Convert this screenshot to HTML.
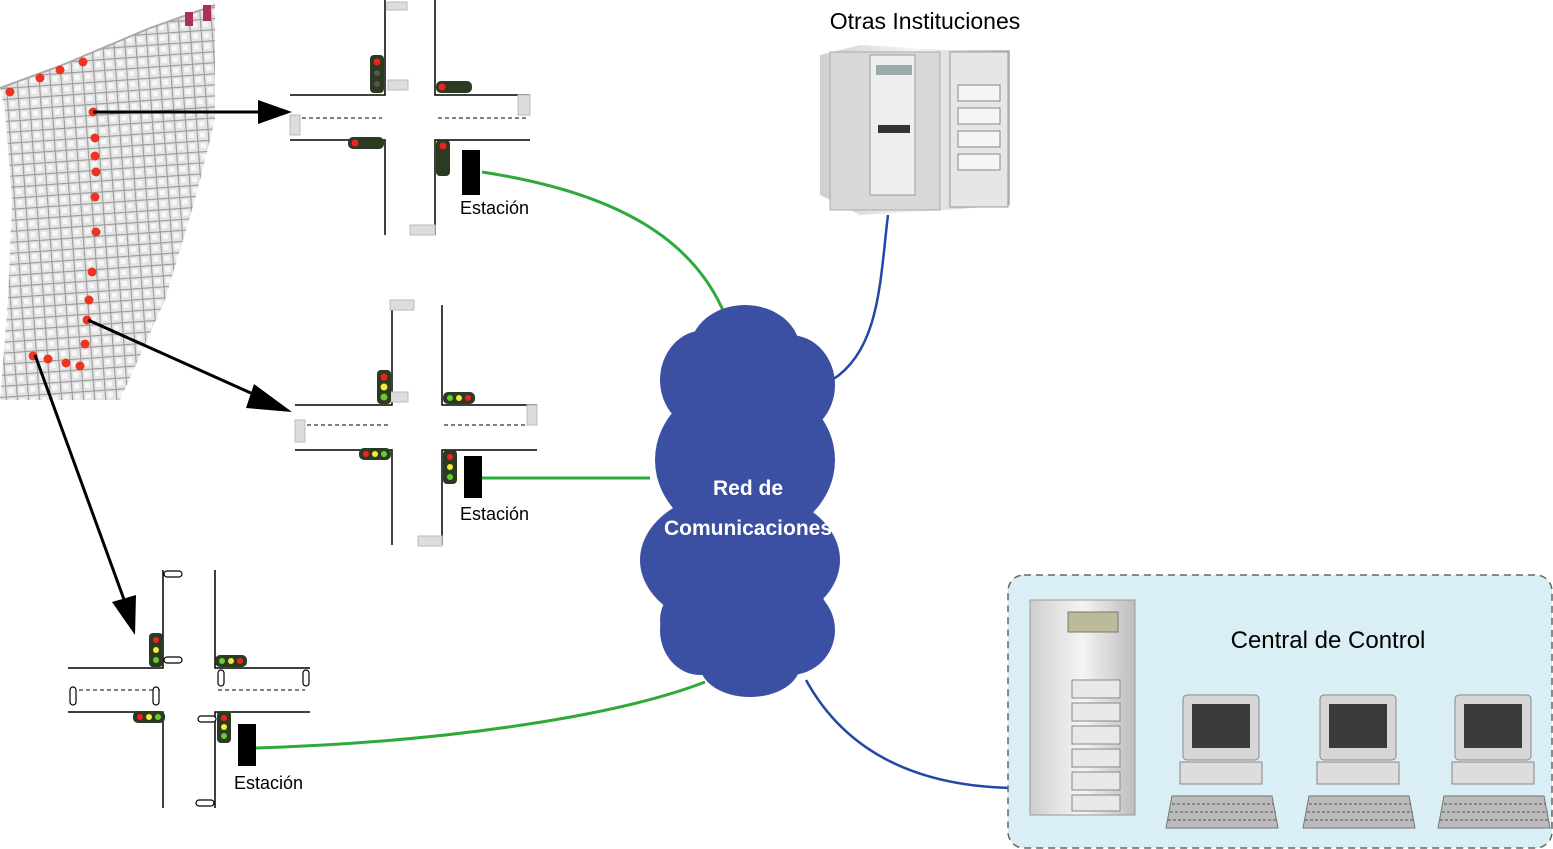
<!DOCTYPE html>
<html><head><meta charset="utf-8"><style>
html,body{margin:0;padding:0;background:#fff;}
svg{display:block;}
text{font-family:"Liberation Sans",sans-serif;}
</style></head><body>
<svg width="1553" height="849" viewBox="0 0 1553 849" xmlns="http://www.w3.org/2000/svg">
<defs>
<pattern id="grid" width="11" height="11" patternUnits="userSpaceOnUse" patternTransform="rotate(-4)">
<rect width="11" height="11" fill="#e4e4e4"/>
<path d="M0 0H11M0 0V11" stroke="#9a9a9a" stroke-width="2.2"/>
<rect x="3" y="3" width="5" height="5" fill="#f8f8f8"/>
</pattern>
<linearGradient id="srv" x1="0" x2="1"><stop offset="0" stop-color="#cfcfcf"/><stop offset="0.5" stop-color="#f4f4f4"/><stop offset="1" stop-color="#bdbdbd"/></linearGradient>
</defs>

<!-- map -->
<path d="M0 88 L60 66 L150 28 L215 5 L215 120 L195 200 L165 300 L120 400 L0 400 L8 300 L12 200 L5 110 Z" fill="url(#grid)"/>
<path d="M0 88 L60 66 L150 28 L215 5" fill="none" stroke="#aaa" stroke-width="2"/>
<rect x="185" y="12" width="8" height="14" fill="#a35"/><rect x="203" y="5" width="8" height="16" fill="#a35"/>
<g fill="#e32">
<circle cx="10" cy="92" r="4.5"/><circle cx="40" cy="78" r="4.5"/><circle cx="60" cy="70" r="4.5"/><circle cx="83" cy="62" r="4.5"/>
<circle cx="93" cy="112" r="4.5"/><circle cx="95" cy="138" r="4.5"/><circle cx="95" cy="156" r="4.5"/><circle cx="96" cy="172" r="4.5"/><circle cx="95" cy="197" r="4.5"/><circle cx="96" cy="232" r="4.5"/><circle cx="92" cy="272" r="4.5"/><circle cx="89" cy="300" r="4.5"/><circle cx="87" cy="320" r="4.5"/><circle cx="85" cy="344" r="4.5"/><circle cx="80" cy="366" r="4.5"/><circle cx="66" cy="363" r="4.5"/><circle cx="48" cy="359" r="4.5"/><circle cx="33" cy="356" r="4.5"/>
</g>

<!-- arrows -->
<g stroke="#000" stroke-width="3">
<line x1="93" y1="112" x2="262" y2="112"/>
<line x1="88" y1="320" x2="262" y2="398"/>
<line x1="35" y1="355" x2="126" y2="605"/>
</g>
<polygon points="292,112 258,100 258,124" fill="#000"/>
<polygon points="292,412 254,384 246,408" fill="#000"/>
<polygon points="135,635 112,602 136,595" fill="#000"/>

<g stroke="#000" stroke-width="1.5" fill="none">
<path d="M385 0V95H290M435 0V95H530M290 140H385V235M530 140H435V235"/>
<path d="M295 118H382M438 118H528" stroke-dasharray="4 3" stroke-width="1"/>
<path d="M392 305V405H295M442 305V405H537M295 450H392V545M537 450H442V545"/>
<path d="M300 425H390M444 425H535" stroke-dasharray="4 3" stroke-width="1"/>
<path d="M163 570V668H68M215 570V668H310M68 712H163V808M310 712H215V808"/>
<path d="M72 690H160M218 690H305" stroke-dasharray="4 3" stroke-width="1"/>
</g>
<g fill="#ddd" stroke="#bbb">
<rect x="387" y="2" width="20" height="8"/><rect x="388" y="80" width="20" height="10"/><rect x="290" y="115" width="10" height="20"/><rect x="518" y="95" width="12" height="20"/><rect x="410" y="225" width="25" height="10"/>
<rect x="390" y="300" width="24" height="10"/><rect x="295" y="420" width="10" height="22"/><rect x="527" y="405" width="10" height="20"/><rect x="418" y="536" width="24" height="10"/><rect x="390" y="392" width="18" height="10"/>
</g>
<g fill="#fff" stroke="#000" stroke-width="1.2">
<rect x="164" y="571" width="18" height="6" rx="3"/><rect x="164" y="657" width="18" height="6" rx="3"/><rect x="70" y="687" width="6" height="18" rx="3"/><rect x="153" y="687" width="6" height="18" rx="3"/><rect x="218" y="670" width="6" height="16" rx="3"/><rect x="303" y="670" width="6" height="16" rx="3"/><rect x="196" y="800" width="18" height="6" rx="3"/><rect x="198" y="716" width="18" height="6" rx="3"/>
</g>
<g>
<rect x="370" y="55" width="14" height="38" rx="4" fill="#2d3a22"/><circle cx="377" cy="62" r="3.5" fill="#e22"/><circle cx="377" cy="73" r="3" fill="#555"/><circle cx="377" cy="84" r="3" fill="#555"/>
<rect x="436" y="81" width="36" height="12" rx="5" fill="#2d3a22"/><circle cx="442" cy="87" r="3.5" fill="#e22"/>
<rect x="348" y="137" width="36" height="12" rx="5" fill="#2d3a22"/><circle cx="355" cy="143" r="3.5" fill="#e22"/>
<rect x="436" y="140" width="14" height="36" rx="4" fill="#2d3a22"/><circle cx="443" cy="146" r="3.5" fill="#e22"/>
<rect x="377" y="370" width="14" height="34" rx="4" fill="#2d3a22"/><circle cx="384" cy="377" r="3.5" fill="#e22"/><circle cx="384" cy="387" r="3.5" fill="#ee3"/><circle cx="384" cy="397" r="3.5" fill="#6c3"/>
<rect x="443" y="392" width="32" height="12" rx="5" fill="#2d3a22"/><circle cx="450" cy="398" r="3" fill="#6c3"/><circle cx="459" cy="398" r="3" fill="#ee3"/><circle cx="468" cy="398" r="3" fill="#e22"/>
<rect x="359" y="448" width="32" height="12" rx="5" fill="#2d3a22"/><circle cx="366" cy="454" r="3" fill="#e22"/><circle cx="375" cy="454" r="3" fill="#ee3"/><circle cx="384" cy="454" r="3" fill="#6c3"/>
<rect x="443" y="450" width="14" height="34" rx="4" fill="#2d3a22"/><circle cx="450" cy="457" r="3" fill="#e22"/><circle cx="450" cy="467" r="3" fill="#ee3"/><circle cx="450" cy="477" r="3" fill="#6c3"/>
<rect x="149" y="633" width="14" height="34" rx="4" fill="#2d3a22"/><circle cx="156" cy="640" r="3" fill="#e22"/><circle cx="156" cy="650" r="3" fill="#ee3"/><circle cx="156" cy="660" r="3" fill="#6c3"/>
<rect x="215" y="655" width="32" height="12" rx="5" fill="#2d3a22"/><circle cx="222" cy="661" r="3" fill="#6c3"/><circle cx="231" cy="661" r="3" fill="#ee3"/><circle cx="240" cy="661" r="3" fill="#e22"/>
<rect x="133" y="711" width="32" height="12" rx="5" fill="#2d3a22"/><circle cx="140" cy="717" r="3" fill="#e22"/><circle cx="149" cy="717" r="3" fill="#ee3"/><circle cx="158" cy="717" r="3" fill="#6c3"/>
<rect x="217" y="711" width="14" height="32" rx="4" fill="#2d3a22"/><circle cx="224" cy="718" r="3" fill="#e22"/><circle cx="224" cy="727" r="3" fill="#ee3"/><circle cx="224" cy="736" r="3" fill="#6c3"/>
</g>
<rect x="462" y="150" width="18" height="45" fill="#000"/>
<rect x="464" y="456" width="18" height="42" fill="#000"/>
<rect x="238" y="724" width="18" height="42" fill="#000"/>
<g font-size="18" fill="#000">
<text x="460" y="214">Estación</text><text x="460" y="520">Estación</text><text x="234" y="789">Estación</text>
</g>

<g stroke="#2eaa3a" stroke-width="3" fill="none">
<path d="M482 172 C600 190 690 230 725 315"/>
<path d="M482 478 H650"/>
<path d="M256 748 C450 742 620 715 705 682"/>
</g>
<g stroke="#2346a8" stroke-width="2.5" fill="none">
<path d="M832 380 C880 350 880 280 888 215"/>
<path d="M806 680 C850 760 930 790 1030 788"/>
<path d="M1010 765 H1032"/>
</g>

<g fill="#3b4fa3">
<ellipse cx="745" cy="350" rx="55" ry="45"/>
<ellipse cx="705" cy="380" rx="45" ry="50"/>
<ellipse cx="790" cy="385" rx="45" ry="50"/>
<ellipse cx="745" cy="460" rx="90" ry="80"/>
<ellipse cx="740" cy="560" rx="100" ry="70"/>
<ellipse cx="745" cy="620" rx="85" ry="55"/>
<ellipse cx="700" cy="630" rx="40" ry="45"/>
<ellipse cx="790" cy="630" rx="45" ry="45"/>
<ellipse cx="750" cy="665" rx="50" ry="32"/>
</g>
<g fill="#fff" font-size="21" font-weight="bold" text-anchor="middle">
<text x="748" y="495">Red de</text><text x="748" y="535">Comunicaciones</text>
</g>

<text x="925" y="29" font-size="23" text-anchor="middle">Otras Instituciones</text>
<polygon points="820,55 860,45 945,50 1010,50 1010,205 945,210 860,215 820,195" fill="url(#srv)"/>
<rect x="830" y="52" width="110" height="158" fill="#d8d8d8" stroke="#aaa"/>
<rect x="870" y="55" width="45" height="140" fill="#eee" stroke="#999"/>
<rect x="950" y="52" width="58" height="155" fill="#e6e6e6" stroke="#999"/>
<g stroke="#888" fill="#f5f5f5"><rect x="958" y="85" width="42" height="16"/><rect x="958" y="108" width="42" height="16"/><rect x="958" y="131" width="42" height="16"/><rect x="958" y="154" width="42" height="16"/></g>
<rect x="878" y="125" width="32" height="8" fill="#333"/><rect x="876" y="65" width="36" height="10" fill="#9aa"/>

<rect x="1008" y="575" width="544" height="273" rx="16" fill="#d9eef5" stroke="#666" stroke-dasharray="7 5" stroke-width="1.5"/>
<text x="1328" y="648" font-size="24" text-anchor="middle">Central de Control</text>
<rect x="1030" y="600" width="105" height="215" fill="url(#srv)" stroke="#999"/>
<rect x="1068" y="612" width="50" height="20" fill="#bb9" stroke="#777"/>
<g fill="#e8e8e8" stroke="#888"><rect x="1072" y="680" width="48" height="18"/><rect x="1072" y="703" width="48" height="18"/><rect x="1072" y="726" width="48" height="18"/><rect x="1072" y="749" width="48" height="18"/><rect x="1072" y="772" width="48" height="18"/><rect x="1072" y="795" width="48" height="16"/></g>
<g id="pc">
<rect x="1183" y="695" width="76" height="65" rx="4" fill="#d6d6d6" stroke="#888"/>
<rect x="1192" y="704" width="58" height="44" fill="#3a3a3a"/>
<rect x="1180" y="762" width="82" height="22" fill="#ddd" stroke="#888"/>
<polygon points="1172,796 1272,796 1278,828 1166,828" fill="#bbb" stroke="#777"/>
<path d="M1172 804H1274M1170 812H1276M1168 820H1277" stroke="#555" stroke-dasharray="3 2"/>
</g>
<use href="#pc" x="137"/>
<use href="#pc" x="272"/>
</svg>
</body></html>
